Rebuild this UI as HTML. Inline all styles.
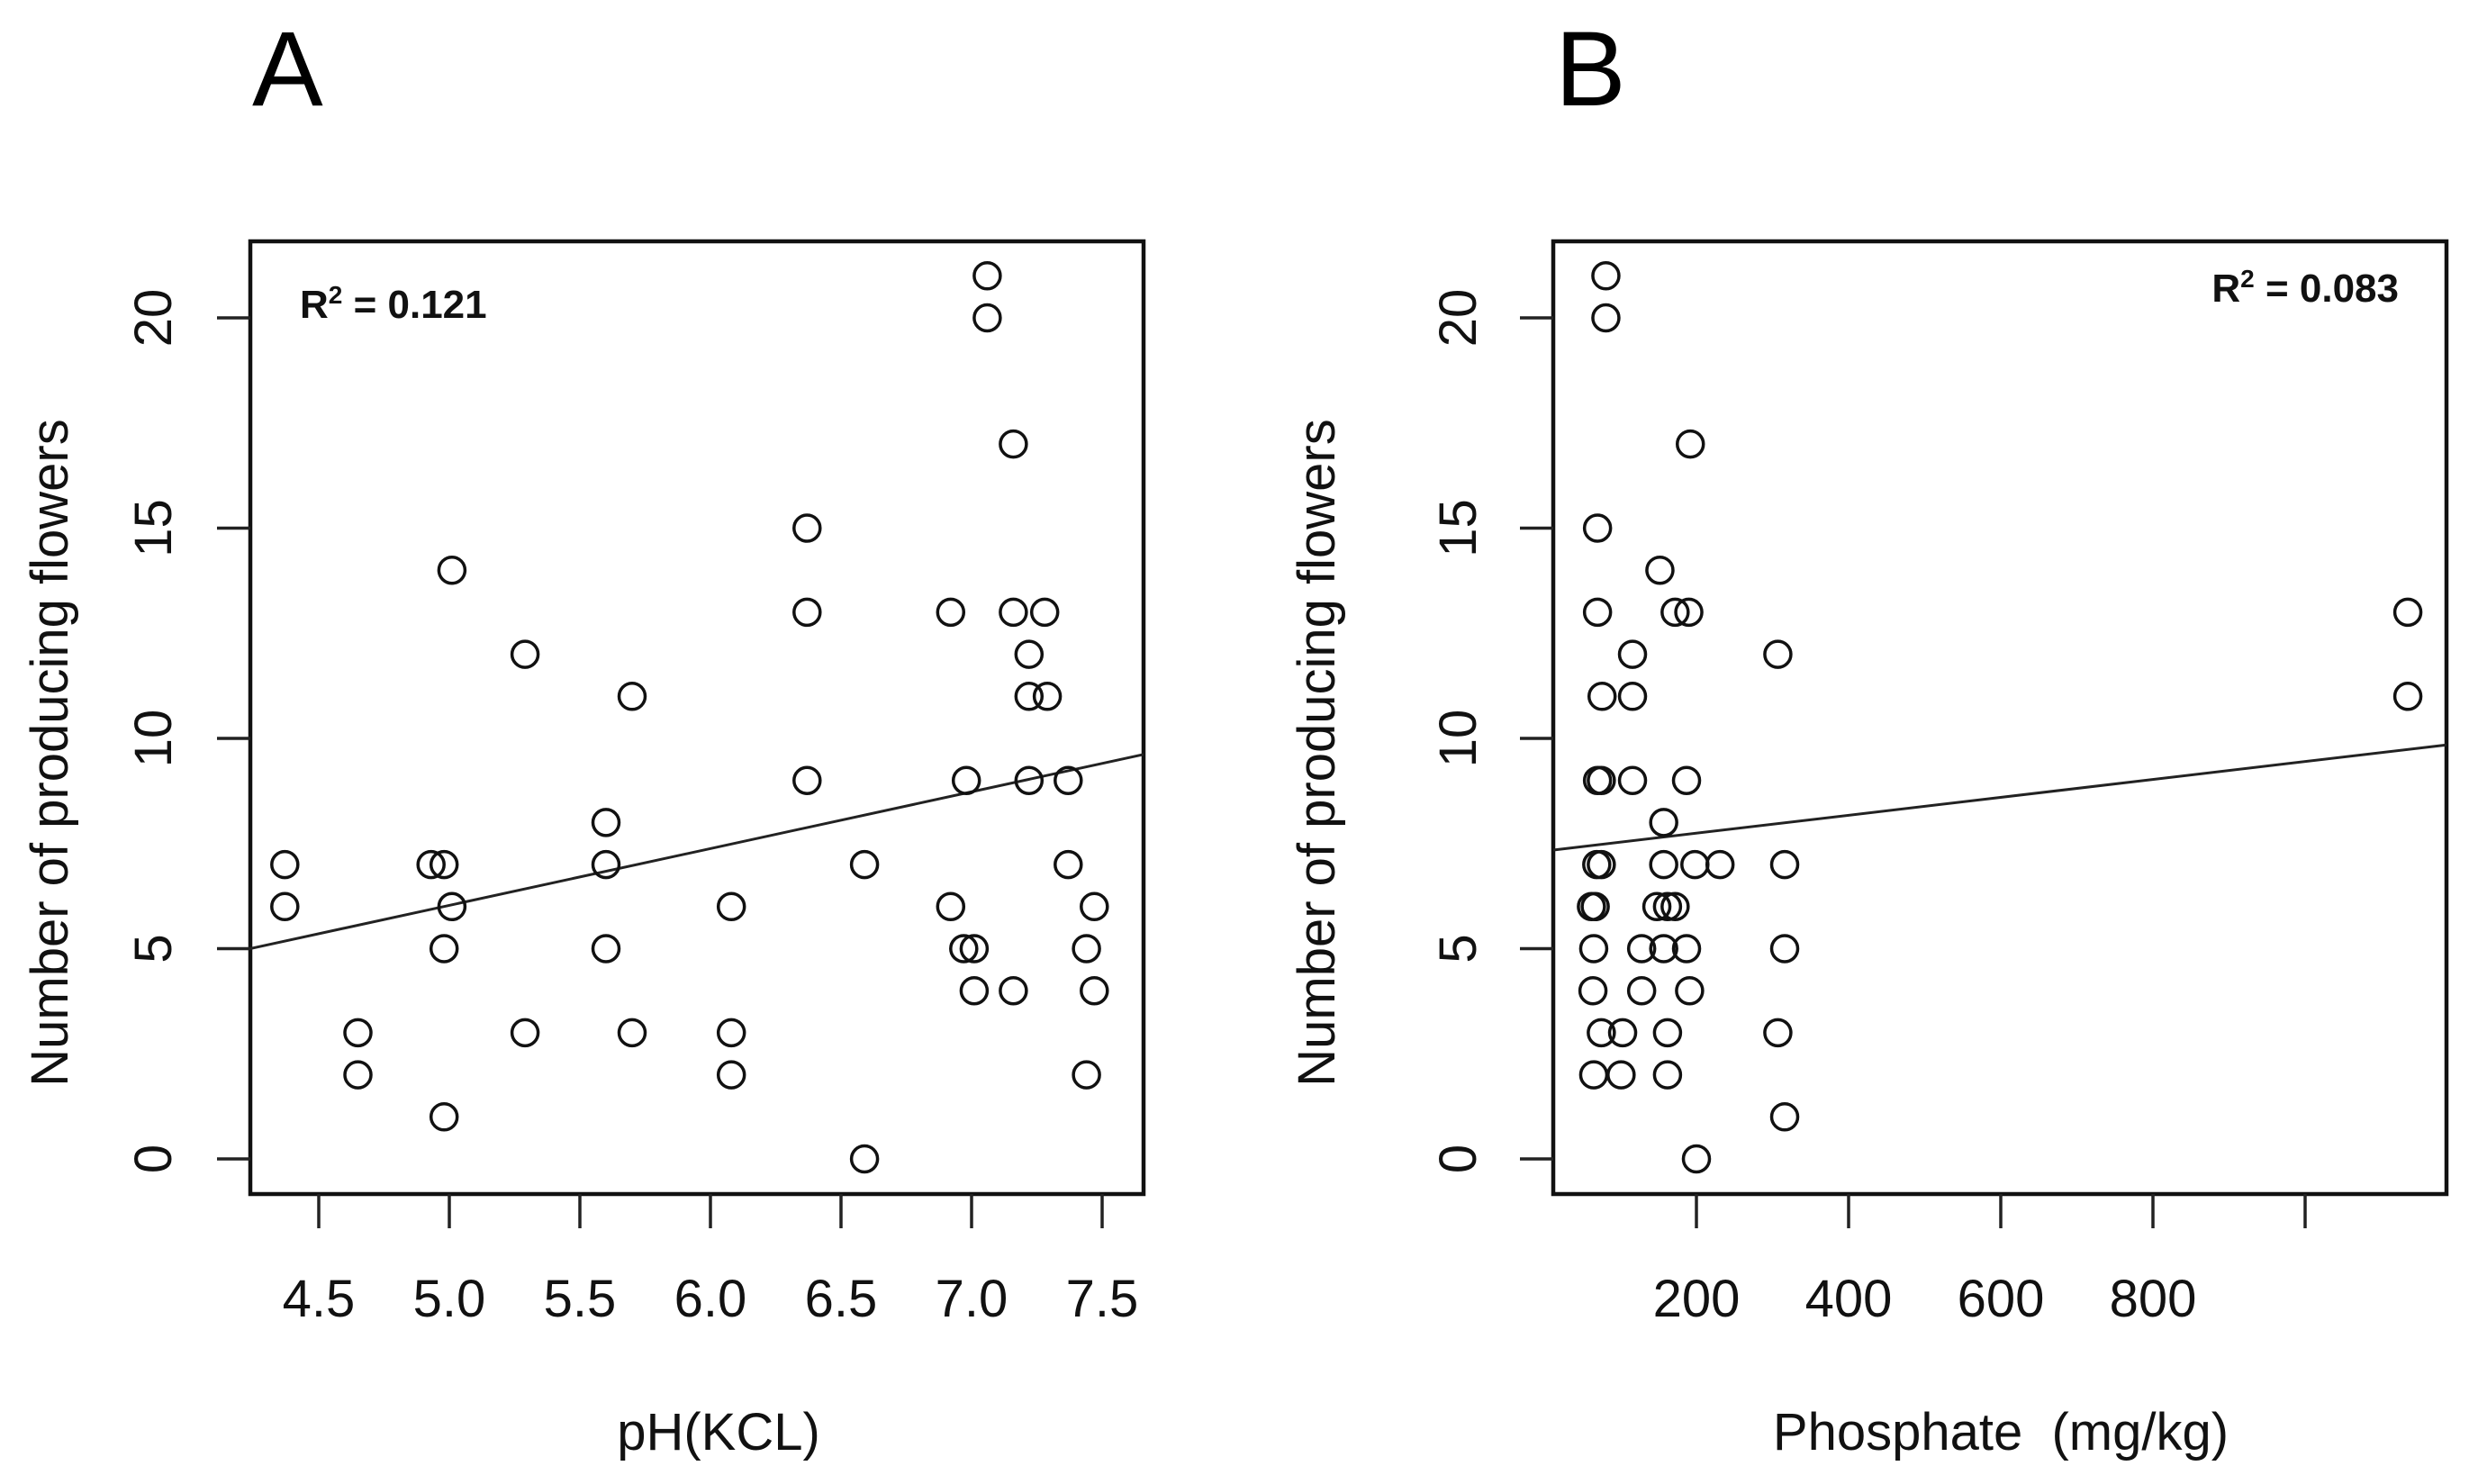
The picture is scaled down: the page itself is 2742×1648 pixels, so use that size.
<!DOCTYPE html>
<html><head><meta charset="utf-8"><style>
html,body{margin:0;padding:0;background:#fff;}
svg{display:block;font-family:"Liberation Sans",Arial,sans-serif;}
</style></head><body>
<svg id="chart" width="2742" height="1648" viewBox="0 0 2742 1648" xmlns="http://www.w3.org/2000/svg"></svg>
<script>
// Panel A data
const phA = [4.37,4.37,4.65,4.65,4.93,4.98,4.98,4.98,5.01,5.01,5.29,5.29,5.60,5.60,5.60,5.70,5.70,6.08,6.08,6.08,6.37,6.37,6.37,6.59,6.59,6.92,6.92,6.98,6.97,7.01,7.01,7.06,7.06,7.16,7.16,7.16,7.22,7.22,7.22,7.28,7.29,7.37,7.37,7.47,7.47,7.44,7.44];
const flowersA = [7,6,3,2,7,7,5,1,14,6,12,3,8,7,5,11,3,6,3,2,15,13,9,7,0,13,6,9,5,5,4,21,20,17,13,4,12,11,9,13,11,9,7,6,4,5,2];
const xTicksA = [4.5,5.0,5.5,6.0,6.5,7.0,7.5];
const xTickLabelsA = ["4.5","5.0","5.5","6.0","6.5","7.0","7.5"];
const fitA = [-0.72, 1.35];
// Panel B data
const phosB = [81,81,70,70,76,70,75,69,75,62,67,65,64,75,65,103,101,116,116,116,128,128,152,148,157,157,157,162,162,162,172,172,190,192,187,187,191,198,200,231,307,307,316,316,316,1135,1135];
const flowersB = [21,20,15,13,11,9,9,7,7,6,6,5,4,3,2,3,2,12,11,9,5,4,14,6,8,7,5,6,3,2,6,13,13,17,9,5,4,7,0,7,12,3,7,5,1,13,11];
const xTicksB = [200,400,600,800,1000];
const xTickLabelsB = ["200","400","600","800",""];
const fitB = [7.32, 0.00213];
const yTicks = [0,5,10,15,20];
const yTickLabels = ["0","5","10","15","20"];

const NS = "http://www.w3.org/2000/svg";
const svg = document.getElementById('chart');
function mk(tag, attrs, parent){const e=document.createElementNS(NS,tag);for(const k in attrs)e.setAttribute(k,attrs[k]);(parent||svg).appendChild(e);return e;}
const yS = v => 1287 - v*46.7;
const xSA = v => 354 + (v-4.5)*290;
const xSB = v => 1884 + (v-200)*0.845;

function panel(cfg){
  const g = mk('g',{});
  
  
  const box = mk('rect',{x:cfg.left,y:268,width:cfg.right-cfg.left,height:1326-268,fill:'none',stroke:'#111','stroke-width':4.5},g);
  
  
  yTicks.forEach((t,i)=>{
    const y=yS(t);
    const tk=mk('line',{x1:cfg.left-37,x2:cfg.left,y1:y,y2:y,stroke:'#222','stroke-width':3.5},g);
    
    
    const tx=mk('text',{x:0,y:0,transform:`translate(${cfg.yLabX},${y}) rotate(-90)`,'text-anchor':'middle','font-size':58,fill:'#111'},g);
    tx.textContent=yTickLabels[i];
    
    
  });
  cfg.xt.forEach((t,i)=>{
    const x=cfg.xs(t);
    const tk=mk('line',{x1:x,x2:x,y1:1326,y2:1364,stroke:'#222','stroke-width':3.5},g);
    
    
    if(cfg.xl[i]){
      const tx=mk('text',{x:x,y:1462,'text-anchor':'middle','font-size':58,fill:'#111'},g);
      tx.textContent=cfg.xl[i];
      
      
    }
  });
  const x0=cfg.inv(cfg.left), x1=cfg.inv(cfg.right);
  const ln=mk('line',{x1:cfg.left,x2:cfg.right,y1:yS(cfg.fit[0]+cfg.fit[1]*x0),y2:yS(cfg.fit[0]+cfg.fit[1]*x1),stroke:'#222','stroke-width':3},g);
  
  
  cfg.xd.forEach((v,i)=>{
    const c=mk('circle',{cx:cfg.xs(v),cy:yS(cfg.yd[i]),r:14.5,fill:'none',stroke:'#111','stroke-width':3.5},g);
    
    
  });
  const yt=mk('text',{x:0,y:0,transform:`translate(${cfg.yTitleX},836) rotate(-90)`,'text-anchor':'middle','font-size':58,fill:'#111'},g);
  yt.textContent='Number of producing flowers';
  
  
  const xt=mk('text',{x:cfg.xTitleX,y:1610,'text-anchor':'middle','font-size':58,fill:'#111'},g);
  xt.textContent=cfg.xTitle;
  
  
  const pl=mk('text',{x:cfg.left+2,y:117,'font-size':118,fill:'#000'},g);
  pl.textContent=cfg.letter;
  
  
  const r2=mk('text',{x:cfg.r2x,y:cfg.r2y,'text-anchor':cfg.r2anchor,'font-size':44,'font-weight':'bold',fill:'#111'},g);
  
  
  const a=mk('tspan',{},r2);a.textContent='R';
  const b=mk('tspan',{'font-size':28,dy:-16},r2);b.textContent='2';
  const c=mk('tspan',{dy:16},r2);c.textContent=' = '+cfg.r2;
}
panel({name:'panel-a',left:278,right:1270,xs:xSA,inv:p=>4.5+(p-354)/290,xt:xTicksA,xl:xTickLabelsA,xd:phA,yd:flowersA,fit:fitA,yLabX:190,yTitleX:75,xTitleX:798,xTitle:'pH(KCL)',letter:'A',r2x:333,r2y:353,r2anchor:'start',r2:'0.121'});
panel({name:'panel-b',left:1725,right:2717,xs:xSB,inv:p=>200+(p-1884)/0.845,xt:xTicksB,xl:xTickLabelsB,xd:phosB,yd:flowersB,fit:fitB,yLabX:1639,yTitleX:1482,xTitleX:2222,xTitle:'Phosphate\u00A0 (mg/kg)',letter:'B',r2x:2664,r2y:335,r2anchor:'end',r2:'0.083'});
</script>
</body></html>
